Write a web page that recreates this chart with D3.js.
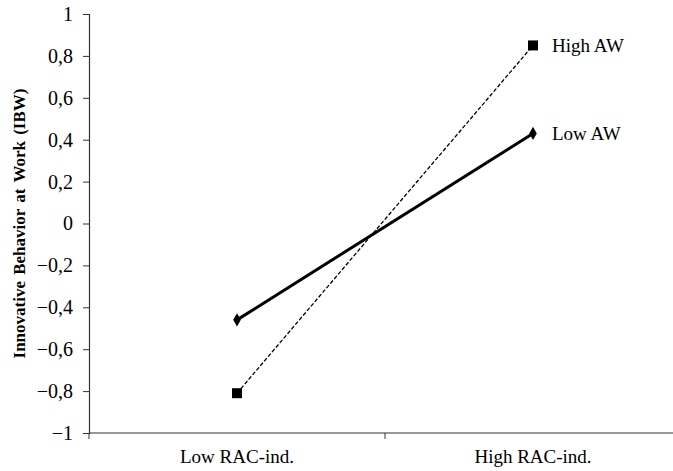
<!DOCTYPE html>
<html><head><meta charset="utf-8">
<script src="https://cdn.jsdelivr.net/npm/d3@7"></script>
<style>body{margin:0;background:#fff}svg{display:block}</style>
</head><body>
<svg id="c" width="673" height="471"></svg>
<script>
const categories = ["Low RAC-ind.", "High RAC-ind."];
const seriesNames = ["High AW", "Low AW"];
const highAW = [-0.81, 0.85];
const lowAW = [-0.46, 0.43];
const yTicks = [-1, -0.8, -0.6, -0.4, -0.2, 0, 0.2, 0.4, 0.6, 0.8, 1];

(function(){
const FF = "Liberation Serif";
const svg = d3.select("#c");
const mLeft = 89, mRight = 681, mTop = 14, mBottom = 433;
const x = d3.scaleBand().domain(categories).range([mLeft, mRight]);
const y = d3.scaleLinear().domain([-1, 1]).range([mBottom, mTop]);
const fmt = v => (v === 0 ? "0" : (v < 0 ? "\u2212" : "") + String(Math.abs(v)).replace(".", ","));

const ya = svg.append("g").attr("transform", `translate(${mLeft},0)`)
  .call(d3.axisLeft(y).tickValues(yTicks).tickFormat(fmt).tickSize(6).tickPadding(10));
ya.attr("font-family", FF).attr("font-size", 20);
ya.select(".domain").attr("stroke", "#333").attr("stroke-width", 1.2);
ya.selectAll(".tick line").attr("stroke", "#333");
ya.selectAll("text").attr("fill", "#000");

const xa = svg.append("g").attr("transform", `translate(0,${mBottom})`)
  .call(d3.axisBottom(x).tickSize(0).tickPadding(17));
xa.attr("font-family", FF).attr("font-size", 19);
xa.select(".domain").attr("stroke", "#333").attr("stroke-width", 1.2).attr("d", `M${mLeft},0H${mRight}`);
xa.selectAll("text").attr("fill", "#000");
const bounds = [mLeft, x(categories[1])];
svg.append("g").selectAll("line").data(bounds).join("line")
  .attr("x1", d => d).attr("x2", d => d).attr("y1", mBottom).attr("y2", mBottom + 6)
  .attr("stroke", "#333");

svg.append("text").attr("transform", `translate(25,${(mTop + mBottom) / 2}) rotate(-90)`)
  .attr("text-anchor", "middle").attr("font-family", FF).attr("font-size", 17).attr("font-weight", "bold")
  .attr("word-spacing", 2)
  .text("Innovative Behavior at Work (IBW)");

const cx = c => x(c) + x.bandwidth() / 2;
const line = d3.line().x((d, i) => cx(categories[i])).y(d => y(d));

svg.append("path").datum(highAW).attr("d", line).attr("fill", "none")
  .attr("stroke", "#000").attr("stroke-width", 1.3).attr("stroke-dasharray", "4,2");
svg.append("g").selectAll("rect").data(highAW).join("rect")
  .attr("x", (d, i) => cx(categories[i]) - 5).attr("y", d => y(d) - 5)
  .attr("width", 10).attr("height", 10).attr("fill", "#000");

svg.append("path").datum(lowAW).attr("d", line).attr("fill", "none")
  .attr("stroke", "#000").attr("stroke-width", 3);
svg.append("g").selectAll("path").data(lowAW).join("path")
  .attr("d", d3.symbol().type(d3.symbolDiamond).size(50))
  .attr("transform", (d, i) => `translate(${cx(categories[i])},${y(d)})`)
  .attr("fill", "#000");

const ends = [highAW[1], lowAW[1]];
svg.append("g").selectAll("text").data(seriesNames).join("text")
  .attr("x", cx(categories[1]) + 19).attr("y", (d, i) => y(ends[i]) + 7)
  .attr("font-family", FF).attr("font-size", 19).text(d => d);
})();
</script>
</body></html>
